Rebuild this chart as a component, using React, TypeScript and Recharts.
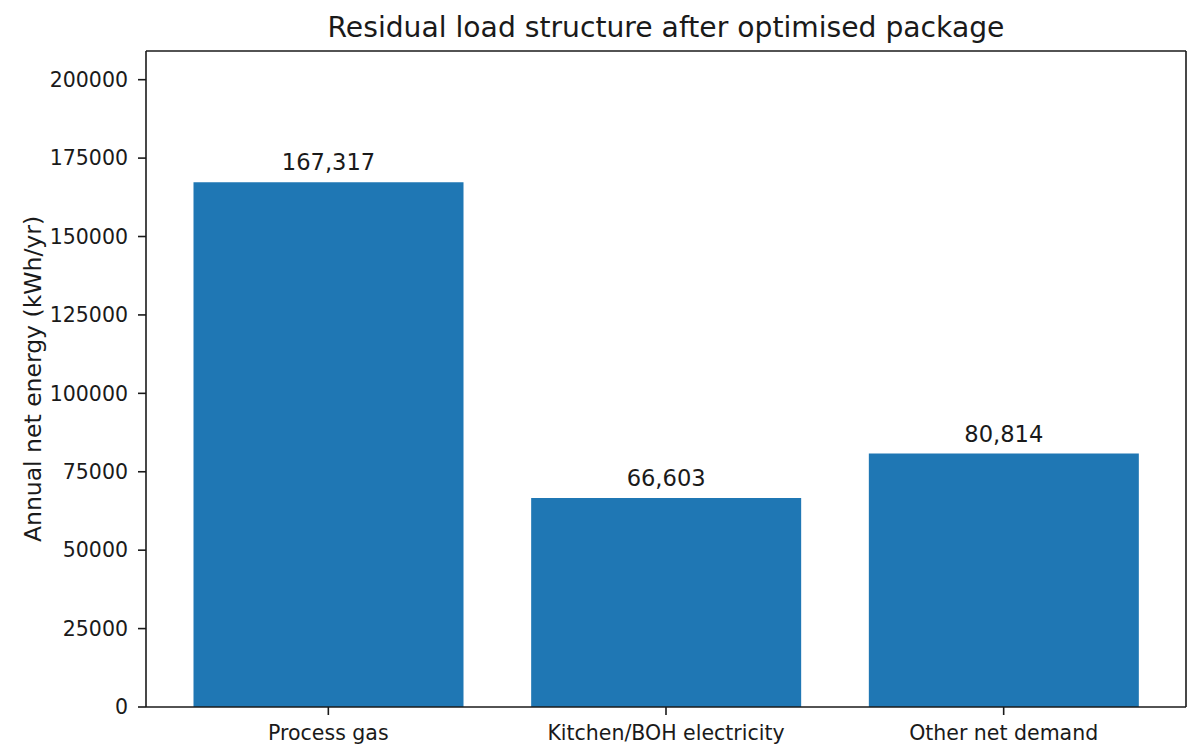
import { Bar, BarChart, CartesianGrid, LabelList, XAxis, YAxis } from "recharts";

const categories = ["Process gas", "Kitchen/BOH electricity", "Other net demand"];
const netEnergy = [167317, 66603, 80814];
const yTicks = [0, 25000, 50000, 75000, 100000, 125000, 150000, 175000, 200000];

const data = categories.map((name, i) => ({ name, value: netEnergy[i] }));
const yMax = Math.max(...netEnergy) * 1.25;

const FONT = "'DejaVu Sans', sans-serif";
const INK = "#1a1a1a";

function YLabel(props: any) {
  const vb = props.viewBox ?? { y: 0, height: 0 };
  const cy = vb.y + vb.height / 2;
  return (
    <text
      transform={`translate(41, ${cy}) rotate(-90)`}
      textAnchor="middle"
      fontFamily={FONT}
      fontSize={23.5}
      fill={INK}
    >
      Annual net energy (kWh/yr)
    </text>
  );
}

export default function App() {
  return (
    <div style={{ position: "absolute", left: 0, top: 0, width: 1199, height: 756, background: "#fff" }}>
      <BarChart
        width={1199}
        height={756}
        data={data}
        margin={{ top: 51, right: 13, bottom: 9, left: 40 }}
        barSize={270}
      >
        {/* top and right spines of the axes box */}
        <CartesianGrid
          stroke={INK}
          strokeWidth={1.6}
          horizontalCoordinatesGenerator={({ offset }: any) => [offset.top]}
          verticalCoordinatesGenerator={({ offset }: any) => [offset.left + offset.width]}
        />
        <XAxis
          dataKey="name"
          height={40}
          padding={{ left: 13.5, right: 13.5 }}
          tickSize={8}
          tickMargin={10}
          tick={{ fontFamily: FONT, fontSize: 20.5, fill: INK }}
          tickLine={{ stroke: INK, strokeWidth: 1.6 }}
          axisLine={{ stroke: INK, strokeWidth: 1.6 }}
          interval={0}
        />
        <YAxis
          width={106}
          domain={[0, yMax]}
          ticks={yTicks}
          interval={0}
          tickSize={8}
          tickMargin={10}
          tick={{ fontFamily: FONT, fontSize: 20.5, fill: INK }}
          tickLine={{ stroke: INK, strokeWidth: 1.6 }}
          axisLine={{ stroke: INK, strokeWidth: 1.6 }}
          allowDataOverflow
          label={{ content: YLabel }}
        />
        <Bar dataKey="value" fill="#1f77b4" isAnimationActive={false}>
          <LabelList
            dataKey="value"
            position="top"
            offset={12}
            formatter={(v: any) => Number(v).toLocaleString("en-US")}
            style={{ fontFamily: FONT, fontSize: 22.6, fill: INK }}
          />
        </Bar>
      </BarChart>
      <svg width={1199} height={50} style={{ position: "absolute", left: 0, top: 0, pointerEvents: "none" }}>
        <text x={666} y={37} textAnchor="middle" fontFamily={FONT} fontSize={28.2} fill={INK}>
          Residual load structure after optimised package
        </text>
      </svg>
    </div>
  );
}
